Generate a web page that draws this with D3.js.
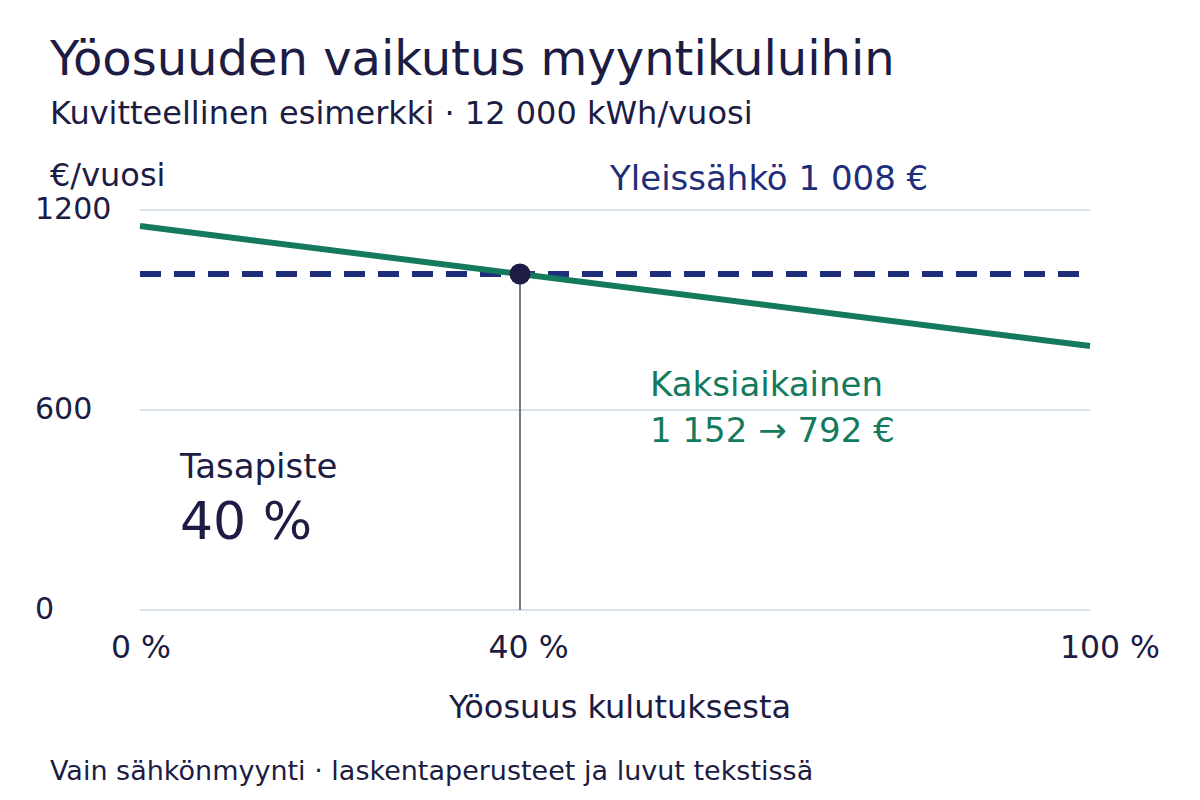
<!DOCTYPE html>
<html lang="fi">
<head>
<meta charset="utf-8">
<title>Yöosuuden vaikutus myyntikuluihin</title>
<script src="https://cdn.jsdelivr.net/npm/d3@7"></script>
<style>
  body { margin: 0; background: #fff; }
  svg { display: block; font-family: "DejaVu Sans", sans-serif; }
</style>
</head>
<body>
<div id="chart"></div>
<script>
// Data
const nightShares = [0, 100];           // yöosuus, %
const twoRateCost = [1152, 792];        // Kaksiaikainen €/vuosi
const generalCost = [1008, 1008];       // Yleissähkö €/vuosi
const breakEven = { share: 40, cost: 1008 };
const yTicks = [0, 600, 1200];
const xTicks = [0, 40, 100];

const width = 1200;
const height = 800;
const ink = '#1c1c44';
const navy = '#1f2e7a';
const green = '#147a5d';
const grid = '#d9e1e8';

const svg = d3.select('#chart')
    .append('svg')
    .attr('width', width)
    .attr('height', height);

const x = d3.scaleLinear().domain([0, 100]).range([140, 1090]);
// tick labels sit a little to the right of the plot edge
const xLabel = d3.scaleLinear().domain([0, 100]).range([141, 1110]);
const y = d3.scaleLinear().domain([0, 1200]).range([610, 210]);

// Titles
svg.append('text').attr('x', 50).attr('y', 75)
    .attr('font-size', 48).attr('fill', ink)
    .text('Yöosuuden vaikutus myyntikuluihin');
svg.append('text').attr('x', 50).attr('y', 124)
    .attr('font-size', 32).attr('fill', ink)
    .text('Kuvitteellinen esimerkki · 12 000 kWh/vuosi');
svg.append('text').attr('x', 50).attr('y', 186)
    .attr('font-size', 32).attr('fill', ink)
    .text('€/vuosi');

// Gridlines
svg.append('g')
    .selectAll('line')
    .data(yTicks)
    .join('line')
    .attr('x1', x(0))
    .attr('x2', x(100))
    .attr('y1', d => y(d))
    .attr('y2', d => y(d))
    .attr('stroke', grid)
    .attr('stroke-width', 2);

// Y tick labels
svg.append('g')
    .selectAll('text')
    .data(yTicks)
    .join('text')
    .attr('x', 35)
    .attr('y', d => y(d) + 9)
    .attr('font-size', 30)
    .attr('fill', ink)
    .text(d => d);

// X tick labels
svg.append('g')
    .selectAll('text')
    .data(xTicks)
    .join('text')
    .attr('x', d => xLabel(d))
    .attr('y', 658)
    .attr('text-anchor', 'middle')
    .attr('font-size', 31.5)
    .attr('fill', ink)
    .text(d => d + ' %');

// Break-even drop line
svg.append('line')
    .attr('x1', x(breakEven.share))
    .attr('x2', x(breakEven.share))
    .attr('y1', y(breakEven.cost))
    .attr('y2', y(0))
    .attr('stroke', '#4b5157')
    .attr('stroke-width', 1.5);

const line = d3.line()
    .x((d, i) => x(nightShares[i]))
    .y(d => y(d));

// Yleissähkö (flat, dashed)
svg.append('path')
    .datum(generalCost)
    .attr('d', line)
    .attr('fill', 'none')
    .attr('stroke', navy)
    .attr('stroke-width', 6)
    .attr('stroke-dasharray', '21 13');

// Kaksiaikainen
svg.append('path')
    .datum(twoRateCost)
    .attr('d', line)
    .attr('fill', 'none')
    .attr('stroke', green)
    .attr('stroke-width', 6);

// Break-even dot
svg.append('circle')
    .attr('cx', x(breakEven.share))
    .attr('cy', y(breakEven.cost))
    .attr('r', 10.5)
    .attr('fill', ink);

// Series labels
svg.append('text').attr('x', 610).attr('y', 190)
    .attr('font-size', 34).attr('fill', navy)
    .text('Yleissähkö 1 008 €');
svg.append('text').attr('x', 650).attr('y', 396)
    .attr('font-size', 34).attr('fill', green)
    .text('Kaksiaikainen');
svg.append('text').attr('x', 650).attr('y', 442)
    .attr('font-size', 34).attr('fill', green)
    .text('1 152 → 792 €');

// Break-even annotation
svg.append('text').attr('x', 180).attr('y', 478)
    .attr('font-size', 34).attr('fill', ink)
    .text('Tasapiste');
svg.append('text').attr('x', 180).attr('y', 539)
    .attr('font-size', 52).attr('fill', ink)
    .text(breakEven.share + ' %');

// Axis title and footer
svg.append('text').attr('x', 620).attr('y', 718)
    .attr('text-anchor', 'middle')
    .attr('font-size', 32).attr('fill', ink)
    .text('Yöosuus kulutuksesta');
svg.append('text').attr('x', 50).attr('y', 780)
    .attr('font-size', 27).attr('fill', ink)
    .text('Vain sähkönmyynti · laskentaperusteet ja luvut tekstissä');
</script>
</body>
</html>
